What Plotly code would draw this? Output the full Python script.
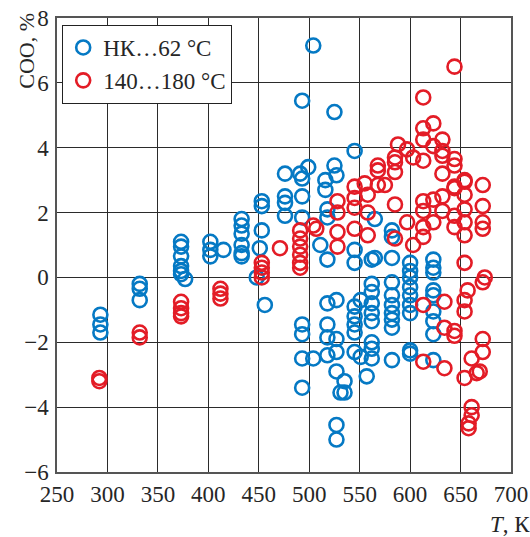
import plotly.graph_objects as go

# Series 1: НК…62 °C  (temperature T, K and COO, %)
blue_T = [
    293, 293, 293,
    332, 332, 332,
    373, 373, 373, 373, 373, 373, 377,
    402, 402, 402, 415,
    433, 433, 433, 433, 433, 433,
    451, 453, 453, 453, 448, 456,
    476, 476, 476, 476,
    491, 493, 493, 493, 493, 493, 493, 493, 493,
    499, 504, 504, 511,
    516, 516, 518, 518, 518, 518, 518, 518, 518,
    525, 525, 527, 527, 527, 527, 527, 527, 527,
    535, 535, 531,
    545, 545, 545, 545, 545, 545, 545, 545,
    551, 551, 557,
    562, 562, 562, 562, 562, 562, 562, 562, 562,
    565, 565,
    582, 582, 582, 582, 582, 582, 582, 582, 582, 582,
    600, 600, 600, 600, 600, 600, 600, 600, 600,
    623, 623, 623, 623, 623, 623, 623, 623, 623,
]
blue_coo = [
    -1.15, -1.45, -1.7,
    -0.2, -0.35, -0.7,
    1.1, 0.95, 0.65, 0.35, 0.2, 0.1, -0.05,
    1.1, 0.85, 0.65, 0.85,
    1.8, 1.6, 1.35, 1.0, 0.75, 0.65,
    0.9, 2.35, 2.2, 1.45, 0.0, -0.85,
    3.2, 2.5, 2.3, 1.9,
    3.2, 3.05, 2.5, 1.85, 5.45, -1.45, -1.75, -2.5, -3.4,
    3.4, 7.15, -2.5, 1.0,
    3.0, 2.7, 2.1, 1.85, 0.55, -0.8, -1.45, -1.85, -2.4,
    3.45, 5.1, 3.15, -0.7, -1.9, -2.3, -2.9, -4.55, -5.0,
    -3.2, -3.55, -3.55,
    3.9, 0.85, 0.45, -0.9, -1.2, -1.45, -1.7, -2.3,
    -0.7, -2.45, -3.05,
    0.55, -0.2, -0.45, -0.8, -1.1, -1.35, -2.0, -2.2, -2.5,
    1.8, 0.6,
    1.45, 1.25, 0.6, -0.15, -0.55, -0.85, -1.1, -1.3, -1.55, -2.55,
    0.45, 0.2, 0.0, -0.3, -0.55, -0.85, -1.1, -2.25, -2.35,
    0.55, 0.3, 0.15, -0.4, -0.55, -1.05, -1.35, -1.75, -2.55,
]

# Series 2: 140…180 °C
red_T = [
    292, 292,
    332, 332,
    373, 373, 373, 373,
    412, 412, 412,
    453, 453, 453, 453,
    471,
    491, 491, 491, 491, 491, 491,
    504, 507,
    528, 528, 528, 528,
    545, 545, 545, 545,
    555, 558, 558, 558,
    568, 568, 568, 575,
    585, 585, 585, 585, 585,
    588, 597, 597, 603, 603,
    613, 613, 613, 613, 613, 613, 613, 613, 613, 613,
    623, 623, 623, 623,
    632, 632, 632, 632, 632, 632,
    634, 634, 634,
    644, 644, 644, 644, 644, 644, 644, 644, 644,
    654, 654, 654, 654, 654, 654, 654, 654, 654, 654,
    657, 661, 661, 661, 658, 658, 666, 669,
    672, 672, 672, 672, 672, 672, 672, 674,
]
red_coo = [
    -3.1, -3.2,
    -1.7, -1.85,
    -0.75, -0.95, -1.1, -1.2,
    -0.35, -0.5, -0.65,
    0.45, 0.3, 0.15, 0.0,
    0.9,
    1.45, 1.2, 0.95, 0.7, 0.45, 0.3,
    1.6, 1.5,
    2.35, 2.0, 1.4, 0.95,
    2.8, 2.45, 2.15, 1.5,
    2.9, 2.55, 2.0, 1.3,
    2.85, 3.45, 3.3, 2.85,
    3.7, 3.55, 3.25, 2.25, 1.2,
    4.1, 3.95, 1.7, 3.7, 1.0,
    5.55, 4.6, 4.25, 3.6, 2.35, 2.05, 1.55, 1.25, -0.85, -2.6,
    4.75, 4.05, 2.4, 1.7,
    4.25, 3.9, 3.75, 3.2, 2.5, 2.05,
    -0.75, -1.55, -2.8,
    6.5, 3.65, 3.45, 2.8, 2.75, 1.9, 1.55, -1.65, -1.8,
    3.0, 2.95, 2.55, 2.1, 1.7, 1.3, 0.45, -0.7, -1.05, -3.1,
    -0.4, -2.5, -4.0, -4.25, -4.5, -4.65, -2.95, -2.9,
    2.85, 2.2, 1.7, 1.5, -0.15, -1.9, -2.3, 0.0,
]

x_ticks = [250, 300, 350, 400, 450, 500, 550, 600, 650, 700]
y_ticks = [-6, -4, -2, 0, 2, 4, 6, 8]

BLUE = "#0579c4"
RED = "#e31c26"
FONT = "Liberation Serif"
TXT = "#262626"

fig = go.Figure()
fig.add_trace(go.Scatter(
    x=blue_T, y=blue_coo, mode="markers", name="НК…62 °C",
    marker=dict(symbol="circle-open", size=14, color=BLUE, line=dict(width=2.6, color=BLUE)),
))
fig.add_trace(go.Scatter(
    x=red_T, y=red_coo, mode="markers", name="140…180 °C",
    marker=dict(symbol="circle-open", size=14, color=RED, line=dict(width=2.6, color=RED)),
))

axis_common = dict(
    showgrid=True, gridcolor="#2b2b2b", gridwidth=1.2, automargin=False,
    ticklabeloverflow="allow",
    zeroline=False, showline=True, linecolor="#555", linewidth=1.5, mirror=True,
    ticks="", tickfont=dict(family=FONT, size=23, color=TXT),
)
fig.update_xaxes(range=[250, 700], tickvals=x_ticks, ticklabelstandoff=1, **axis_common)
fig.update_yaxes(range=[-6, 8], tickvals=y_ticks, ticklabelstandoff=2, **axis_common)

fig.update_layout(
    width=530, height=537,
    margin=dict(l=57, r=19, t=18, b=65, autoexpand=False),
    plot_bgcolor="white", paper_bgcolor="white",
    font=dict(family=FONT, size=23, color=TXT),
    showlegend=True,
    legend=dict(
        x=0.011, y=0.985, xanchor="left", yanchor="top",
        bgcolor="white", bordercolor="#222", borderwidth=1.2,
        font=dict(family=FONT, size=23, color=TXT),
        tracegroupgap=0,
    ),
    annotations=[
        dict(text="СОО, %", xref="paper", yref="paper", x=-0.066, y=1.016,
             xanchor="center", yanchor="top", textangle=-90, showarrow=False,
             font=dict(family=FONT, size=22, color=TXT)),
        dict(text="<i>T</i>, К", xref="paper", yref="paper", x=1.046, y=-0.115,
             xanchor="right", yanchor="middle", showarrow=False,
             font=dict(family=FONT, size=23, color=TXT)),
    ],
)

fig.write_html(
    "out.html",
    config={"displayModeBar": False},
    post_script="document.body.style.margin='0';document.body.style.overflow='hidden';",
)
